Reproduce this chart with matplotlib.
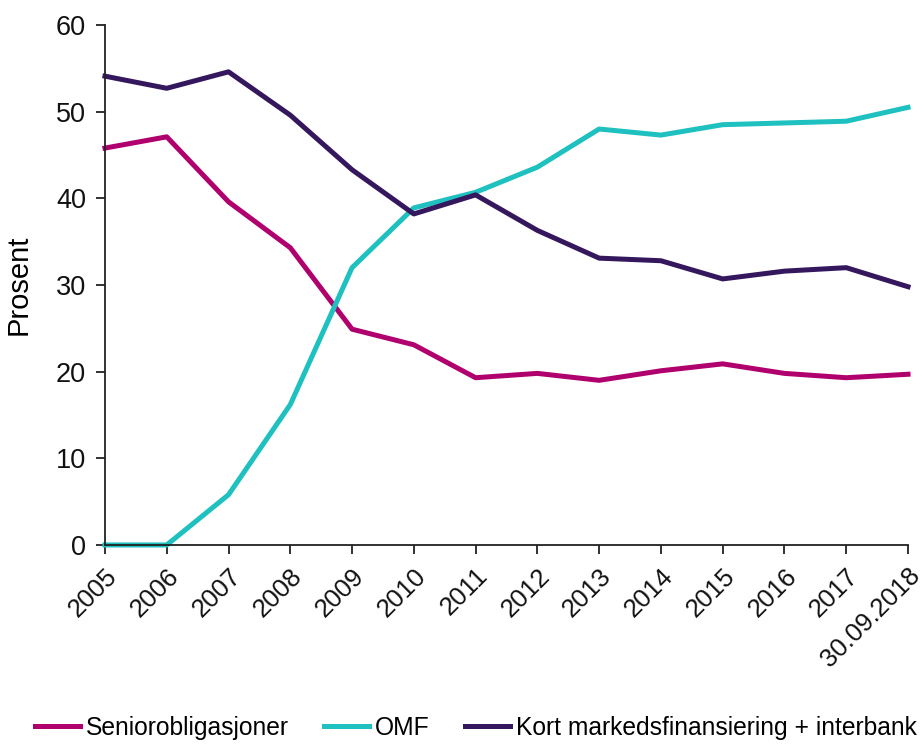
import matplotlib.pyplot as plt

years = ["2005", "2006", "2007", "2008", "2009", "2010", "2011", "2012",
         "2013", "2014", "2015", "2016", "2017", "30.09.2018"]
senior = [45.8, 47.1, 39.6, 34.3, 24.9, 23.1, 19.3, 19.8, 19.0, 20.1, 20.9, 19.8, 19.3, 19.7]
omf = [0.0, 0.0, 5.8, 16.2, 32.0, 38.9, 40.7, 43.6, 48.0, 47.3, 48.5, 48.7, 48.9, 50.5]
kort = [54.1, 52.7, 54.6, 49.6, 43.3, 38.2, 40.4, 36.3, 33.1, 32.8, 30.7, 31.6, 32.0, 29.8]


def main():
    plt.rcParams["font.family"] = ["Liberation Sans", "DejaVu Sans"]
    fig = plt.figure(figsize=(9.24, 7.45), dpi=100)
    ax = fig.add_axes([0.1136, 0.2685, 0.8691, 0.6979])

    x = list(range(len(years)))
    ax.plot(x, senior, color="#B0006E", lw=3.6, label="Seniorobligasjoner", solid_joinstyle="round")
    ax.plot(x, omf, color="#1EC0C0", lw=3.6, label="OMF", solid_joinstyle="round")
    ax.plot(x, kort, color="#35175E", lw=3.6, label="Kort markedsfinansiering + interbank",
            solid_joinstyle="round")

    ax.set_xlim(0, len(years) - 1)
    ax.set_ylim(0, 60)
    ax.set_yticks(range(0, 61, 10))
    ax.set_xticks(x)
    ax.set_xticklabels(years, rotation=45, ha="right", rotation_mode="anchor")
    ax.tick_params(axis="both", labelsize=19.5, length=6.5, width=1.3, direction="out",
                   colors="#222222", labelcolor="#111111")
    ax.tick_params(axis="x", pad=7, labelsize=18.5)
    ax.tick_params(axis="y", pad=7)
    ax.set_ylabel("Prosent", fontsize=21)
    ax.yaxis.set_label_coords(-0.09, 0.5)
    for s in ["top", "right"]:
        ax.spines[s].set_visible(False)
    for s in ["left", "bottom"]:
        ax.spines[s].set_linewidth(1.3)
        ax.spines[s].set_color("#222222")
    for l in ax.lines:
        l.set_clip_on(False)

    fig.legend(loc="center left", bbox_to_anchor=(0.027, 0.023), ncol=3, frameon=False,
               fontsize=17.7, handlelength=1.82, handletextpad=0.24, columnspacing=1.45,
               borderaxespad=0)

    fig.savefig("out.png", dpi=100)


if __name__ == "__main__":
    main()
